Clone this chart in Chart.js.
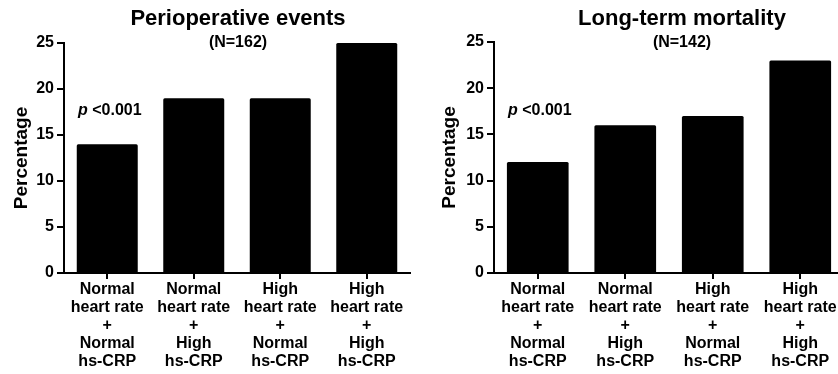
<!DOCTYPE html>
<html><head><meta charset="utf-8">
<script src="https://cdn.jsdelivr.net/npm/chart.js@4.4.0/dist/chart.umd.min.js"></script>
<style>
html,body{margin:0;padding:0;background:#fff;overflow:hidden;width:838px;height:374px;}
#c1{position:absolute;left:0;top:0;}
#c2{position:absolute;left:420px;top:0;}
</style></head><body>
<canvas id="c1" width="420" height="374"></canvas>
<canvas id="c2" width="440" height="374"></canvas>
<script>
const categories = [
  ["Normal","heart rate","+","Normal","hs-CRP"],
  ["Normal","heart rate","+","High","hs-CRP"],
  ["High","heart rate","+","Normal","hs-CRP"],
  ["High","heart rate","+","High","hs-CRP"]
];
const perioperativeValues = [14, 19, 19, 25];
const mortalityValues = [12, 16, 17, 23];
const yMin = 0, yMax = 25, yStep = 5;
const panelTitles = ["Perioperative events", "Long-term mortality"];
const panelSubtitles = ["(N=162)", "(N=142)"];
const pLetter = "p";
const pValueText = "<0.001";
const yAxisTitle = "Percentage";

const FAM = '"Liberation Sans", Arial, Helvetica, sans-serif';

const textPlugin = {
  id: 'panelText',
  afterDraw(chart, args, o) {
    const ctx = chart.ctx;
    ctx.save();
    ctx.fillStyle = '#000';
    ctx.textAlign = 'center';
    ctx.textBaseline = 'middle';
    ctx.font = 'bold 22px ' + FAM;
    ctx.fillText(o.title, o.titleX, o.titleY);
    ctx.font = 'bold 16px ' + FAM;
    ctx.fillText(o.subtitle, o.titleX, o.subY);
    ctx.textAlign = 'left';
    ctx.font = 'italic bold 16px ' + FAM;
    ctx.fillText(pLetter, o.pX, o.pY);
    const w = ctx.measureText(pLetter + ' ').width;
    ctx.font = 'bold 16px ' + FAM;
    ctx.fillText(pValueText, o.pX + w, o.pY);
    ctx.restore();
  }
};

function makeChart(id, values, panel, yWidth, padTop, padRight, titlePad) {
  return new Chart(document.getElementById(id), {
    type: 'bar',
    data: {
      labels: categories,
      datasets: [{
        data: values,
        backgroundColor: '#000',
        borderWidth: 0,
        borderRadius: 1.5,
        barPercentage: 0.705,
        categoryPercentage: 1
      }]
    },
    options: {
      responsive: false,
      animation: false,
      devicePixelRatio: 1,
      layout: { padding: { top: padTop, right: padRight, left: 0, bottom: 0 } },
      plugins: {
        legend: { display: false },
        tooltip: { enabled: false },
        title: { display: false },
        panelText: panel
      },
      scales: {
        x: {
          grid: { display: true, drawOnChartArea: false, drawTicks: true, tickLength: 6, lineWidth: 2, color: '#000', offset: false },
          border: { display: true, width: 2, color: '#000' },
          ticks: { color: '#000', font: { family: FAM, size: 16, weight: 'bold', lineHeight: 1.125 }, padding: 2, maxRotation: 0, autoSkip: false },
          afterFit(s) { s.height = 101; }
        },
        y: {
          min: yMin, max: yMax,
          ticks: { stepSize: yStep, color: '#000', font: { family: FAM, size: 16, weight: 'bold' }, padding: 3 },
          grid: { display: true, drawOnChartArea: false, drawTicks: true, tickLength: 7, lineWidth: 2, color: '#000' },
          border: { display: true, width: 2, color: '#000' },
          title: { display: true, text: yAxisTitle, color: '#000', font: { family: FAM, size: 19, weight: 'bold' }, padding: { top: titlePad, bottom: 0 } },
          afterFit(s) { s.width = yWidth; }
        }
      }
    },
    plugins: [textPlugin]
  });
}

makeChart('c1', perioperativeValues,
  { title: panelTitles[0], subtitle: panelSubtitles[0], titleX: 238, titleY: 19, subY: 43, pX: 78, pY: 111 },
  64, 43, 10, 10);
makeChart('c2', mortalityValues,
  { title: panelTitles[1], subtitle: panelSubtitles[1], titleX: 262, titleY: 19, subY: 43, pX: 88, pY: 111 },
  74, 42, 16, 18);
</script>
</body></html>
